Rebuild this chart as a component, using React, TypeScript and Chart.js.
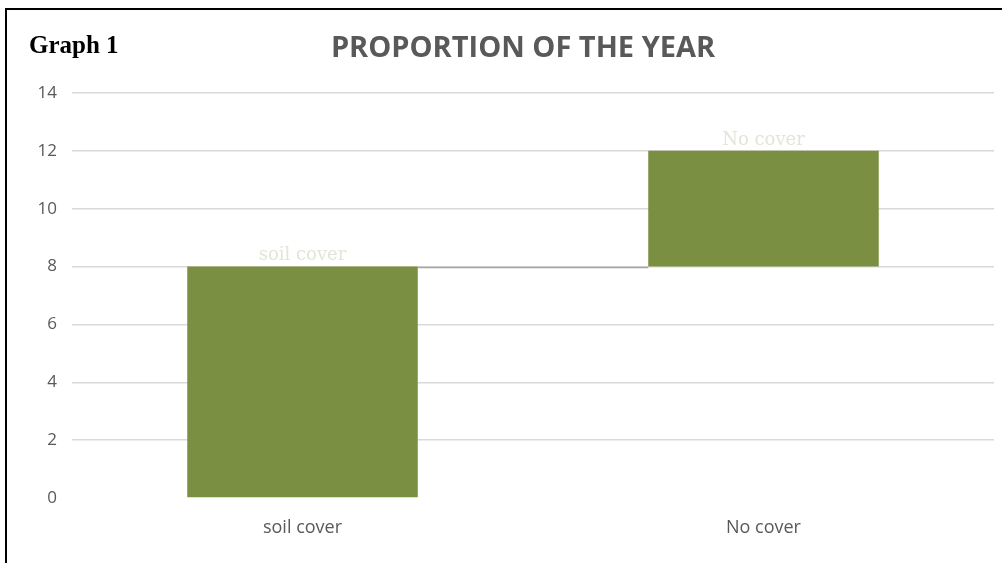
import React, { useEffect, useRef } from "react";
import { Chart, registerables } from "chart.js";

Chart.register(...registerables);

const categories = ["soil cover", "No cover"];
const barStarts = [0, 8];
const barEnds = [8, 12];
const yTicks = [0, 2, 4, 6, 8, 10, 12, 14];
const chartTitle = "PROPORTION OF THE YEAR";
const graphLabel = "Graph 1";

const BAR_COLOR = "#7a8f41";

const overlayPlugin = {
  id: "overlay",
  afterDatasetsDraw(chart: any) {
    const ctx = chart.ctx;
    const meta = chart.getDatasetMeta(0);
    const yScale = chart.scales.y;
    ctx.save();
    // connector line between floating bars
    for (let i = 0; i < meta.data.length - 1; i++) {
      const a = meta.data[i];
      const b = meta.data[i + 1];
      const y = Math.round(yScale.getPixelForValue(barEnds[i])) + 0.5;
      ctx.strokeStyle = "#a6a6a6";
      ctx.lineWidth = 1.5;
      ctx.beginPath();
      ctx.moveTo(a.x + a.width / 2, y);
      ctx.lineTo(b.x - b.width / 2, y);
      ctx.stroke();
    }
    // data labels
    ctx.fillStyle = "#e1e6d8";
    ctx.font = "18px 'DejaVu Serif'";
    ctx.textAlign = "center";
    ctx.textBaseline = "middle";
    meta.data.forEach((el: any, i: number) => {
      const top = yScale.getPixelForValue(barEnds[i]);
      ctx.fillText(categories[i], el.x, top - 11);
    });
    // chart title
    ctx.fillStyle = "#595959";
    ctx.font = "bold 29px 'Open Sans'";
    ctx.textAlign = "center";
    ctx.textBaseline = "middle";
    ctx.fillText(chartTitle, 523, 49);
    // graph label
    ctx.fillStyle = "#000000";
    ctx.font = "bold 25px 'Liberation Serif'";
    ctx.textAlign = "left";
    ctx.textBaseline = "alphabetic";
    ctx.fillText(graphLabel, 29, 53);
    ctx.restore();
  },
};

export default function App() {
  const canvasRef = useRef<HTMLCanvasElement | null>(null);

  useEffect(() => {
    if (!canvasRef.current) return;
    const chart = new Chart(canvasRef.current, {
      type: "bar",
      data: {
        labels: categories,
        datasets: [
          {
            data: categories.map((_, i) => [barStarts[i], barEnds[i]]) as any,
            backgroundColor: BAR_COLOR,
            borderWidth: 0,
            barPercentage: 0.5,
            categoryPercentage: 1,
          },
        ],
      },
      options: {
        responsive: false,
        animation: false,
        layout: { padding: { left: 0, right: 8, top: 93, bottom: 0 } },
        plugins: {
          legend: { display: false },
          tooltip: { enabled: false },
          title: { display: false },
        },
        scales: {
          x: {
            afterFit: (s: any) => {
              s.height = 65;
            },
            grid: { display: false, drawTicks: false },
            border: { display: false },
            ticks: {
              color: "#595959",
              font: { family: "'Open Sans'", size: 18 },
              padding: 19,
            },
          },
          y: {
            min: 0,
            max: 14,
            afterFit: (s: any) => {
              s.width = 72;
            },
            afterBuildTicks: (s: any) => {
              s.ticks = yTicks.map((v) => ({ value: v }));
            },
            grid: {
              drawTicks: false,
              color: (c: any) => (c.tick && c.tick.value === 0 ? "rgba(0,0,0,0)" : "#d9d9d9"),
              lineWidth: 1.5,
            },
            border: { display: false },
            ticks: {
              color: "#595959",
              font: { family: "'Open Sans'", size: 17 },
              padding: 15,
            },
          },
        },
      },
      plugins: [overlayPlugin],
    });
    return () => chart.destroy();
  }, []);

  return (
    <div
      style={{
        position: "fixed",
        left: 0,
        top: 0,
        width: 1002,
        height: 563,
        background: "#ffffff",
        overflow: "hidden",
      }}
    >
      <canvas ref={canvasRef} width={1002} height={563} style={{ position: "absolute", left: 0, top: 0 }} />
      <div style={{ position: "absolute", left: 5, top: 8, width: 997, height: 2, background: "#000" }} />
      <div style={{ position: "absolute", left: 5, top: 8, width: 2, height: 555, background: "#000" }} />
    </div>
  );
}
